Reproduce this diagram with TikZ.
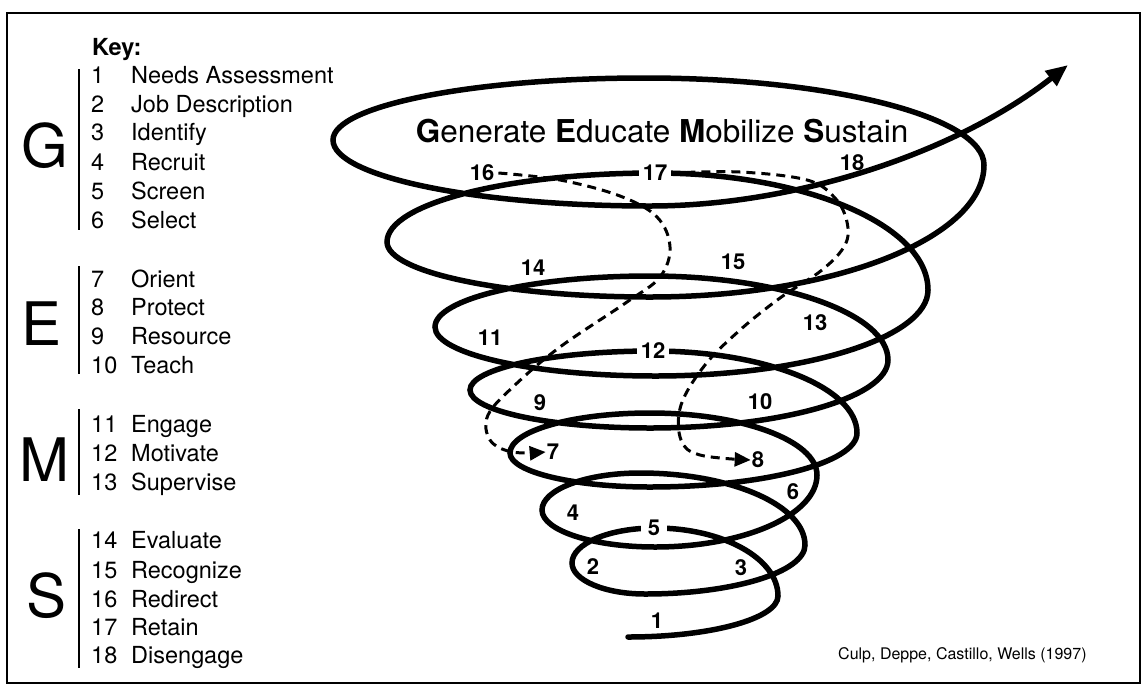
\documentclass[tikz,border=0pt]{standalone}
\usepackage{fontspec}
\setmainfont{TeX Gyre Heros}
\usetikzlibrary{calc,arrows.meta}

% quarter arcs of the spiral: from a point with a vertical tangent to one
% with a horizontal tangent (qVH), and the other way round (qHV)
\newcommand\kap{0.552}
\newcommand\qVH[2]{.. controls ($(#1)!\kap!(#1|-#2)$) and ($(#2)!\kap!(#1|-#2)$) .. (#2)}
\newcommand\qHV[2]{.. controls ($(#1)!\kap!(#2|-#1)$) and ($(#2)!\kap!(#2|-#1)$) .. (#2)}

\begin{document}
\begin{tikzpicture}[x=1pt,y=-1pt,
  keytext/.style={anchor=base west, inner sep=0pt, font=\fontsize{23.5}{27}\selectfont},
  keyhead/.style={keytext, font=\fontsize{23.5}{27}\selectfont\bfseries},
  bigletter/.style={anchor=base, inner sep=0pt, font=\fontsize{60}{64}\selectfont},
  keybar/.style={line width=2.4pt},
  spiral/.style={line width=5.5pt, line cap=round},
  steplabel/.style={font=\fontsize{22}{25}\selectfont\bfseries, inner sep=0pt},
  gaplabel/.style={steplabel, fill=white, inner xsep=4pt, inner ysep=3pt},
  pathway/.style={line width=3pt, dash pattern=on 9pt off 6pt,
    -{Triangle[length=16pt,width=14pt]}},
]
\useasboundingbox (0,0) rectangle (1146,689);
\draw[line width=2.5pt] (7,13) rectangle (1140,683);

% ---- key ----
\node[keyhead] (keyhead) at (92,55) {Key:};
\foreach \n/\txt/\y in {1/Needs Assessment/83, 2/Job Description/112,
    3/Identify/140, 4/Recruit/170, 5/Screen/199, 6/Select/228,
    7/Orient/287, 8/Protect/315, 9/Resource/344, 10/Teach/373,
    11/Engage/432, 12/Motivate/461, 13/Supervise/490,
    14/Evaluate/548, 15/Recognize/578, 16/Redirect/607, 17/Retain/635,
    18/Disengage/663}{
  \node[keytext] (kn\n) at (91,\y) {\n};
  \node[keytext] (kt\n) at (131,\y) {\txt};
}
\node[bigletter] (bigG) at (45,167) {G};
\node[bigletter] (bigE) at (42,345) {E};
\node[bigletter] (bigM) at (44,481) {M};
\node[bigletter] (bigS) at (47,617) {S};
\draw[keybar] (79,69) -- (79,230);
\draw[keybar] (79,266) -- (79,374);
\draw[keybar] (79,409) -- (79,495);
\draw[keybar] (79,529) -- (79,668);

% ---- spiral extremes: R right, T top (back), L left, B bottom (front) ----
\coordinate (S)  at (628,637);
\coordinate (R0) at (778,596);
\coordinate (T0) at (655,528);
\coordinate (L0) at (572,563);
\coordinate (B0) at (645,594);
\coordinate (R1) at (805,545);
\coordinate (T1) at (640,473);
\coordinate (L1) at (542,510);
\coordinate (B1) at (655,547);
\coordinate (R2) at (817,475);
\coordinate (T2) at (650,413);
\coordinate (L2) at (510,453);
\coordinate (B2) at (650,487);
\coordinate (R3) at (857,433);
\coordinate (T3) at (653,351);
\coordinate (L3) at (470,390);
\coordinate (B3) at (650,428);
\coordinate (R4) at (888,360);
\coordinate (T4) at (650,276);
\coordinate (L4) at (435,327);
\coordinate (B4) at (655,376);
\coordinate (R5) at (928,290);
\coordinate (T5) at (655,173);
\coordinate (L5) at (387,242);
\coordinate (B5) at (650,297);
\coordinate (R6) at (984,165);
\coordinate (T6) at (645,78);
\coordinate (L6) at (333,140);
\coordinate (B6) at (650,206);
\coordinate (E)  at (1068,65);

\draw[spiral, -{Triangle[length=22pt,width=18pt]}] (S)
  \qHV{S}{R0}  \qVH{R0}{T0} \qHV{T0}{L0} \qVH{L0}{B0}
  \qHV{B0}{R1} \qVH{R1}{T1} \qHV{T1}{L1} \qVH{L1}{B1}
  \qHV{B1}{R2} \qVH{R2}{T2} \qHV{T2}{L2} \qVH{L2}{B2}
  \qHV{B2}{R3} \qVH{R3}{T3} \qHV{T3}{L3} \qVH{L3}{B3}
  \qHV{B3}{R4} \qVH{R4}{T4} \qHV{T4}{L4} \qVH{L4}{B4}
  \qHV{B4}{R5} \qVH{R5}{T5} \qHV{T5}{L5} \qVH{L5}{B5}
  \qHV{B5}{R6} \qVH{R6}{T6} \qHV{T6}{L6} \qVH{L6}{B6}
  .. controls (800,206) and (960,150) .. (E);

% ---- step numbers ----
\node[steplabel] (s1)  at (657,621) {1};
\node[steplabel] (s2)  at (593,567) {2};
\node[steplabel] (s3)  at (741,568) {3};
\node[steplabel] (s4)  at (573,513) {4};
\node[gaplabel, inner xsep=7pt] (s5) at (654,528) {5};
\node[steplabel] (s6)  at (793,492) {6};
\node[steplabel] (s7)  at (553,452) {7};
\node[steplabel] (s8)  at (758,460) {8};
\node[steplabel] (s9)  at (540,403) {9};
\node[steplabel] (s10) at (760,402) {10};
\node[steplabel] (s11) at (490,338) {11};
\node[gaplabel]  (s12) at (653,351) {12};
\node[steplabel] (s13) at (815,323) {13};
\node[steplabel] (s14) at (533,268) {14};
\node[steplabel] (s15) at (733,262) {15};
\node[steplabel] (s16) at (482,173) {16};
\node[gaplabel]  (s17) at (655,173) {17};
\node[steplabel] (s18) at (852,163) {18};

% ---- dashed pathways ----
\draw[pathway] plot[smooth, tension=0.6] coordinates {
  ([xshift=4pt]s16.east) (560,180) (620,196) (657,217) (670,247) (660,277)
  (627,302) (560,347) (515,385) (488,415) (490,440) (512,452) ([xshift=-1pt]s7.west)};
\draw[pathway] plot[smooth, tension=0.6] coordinates {
  (s17.east) (740,172) (807,180) (835,198) (847,222) (845,245) (822,270)
  (780,298) (740,330) (705,365) (681,405) (681,440) (700,455) ([xshift=-1pt]s8.west)};

% ---- title and source ----
\node[anchor=base, inner sep=0pt, font=\fontsize{31.5}{36}\selectfont] (title) at (662,142)
  {\textbf{G}enerate \textbf{E}ducate \textbf{M}obilize \textbf{S}ustain};
\node[anchor=base west, inner sep=0pt, font=\fontsize{16}{19}\selectfont] (source) at (838,659)
  {Culp, Deppe, Castillo, Wells (1997)};
\end{tikzpicture}
\end{document}
